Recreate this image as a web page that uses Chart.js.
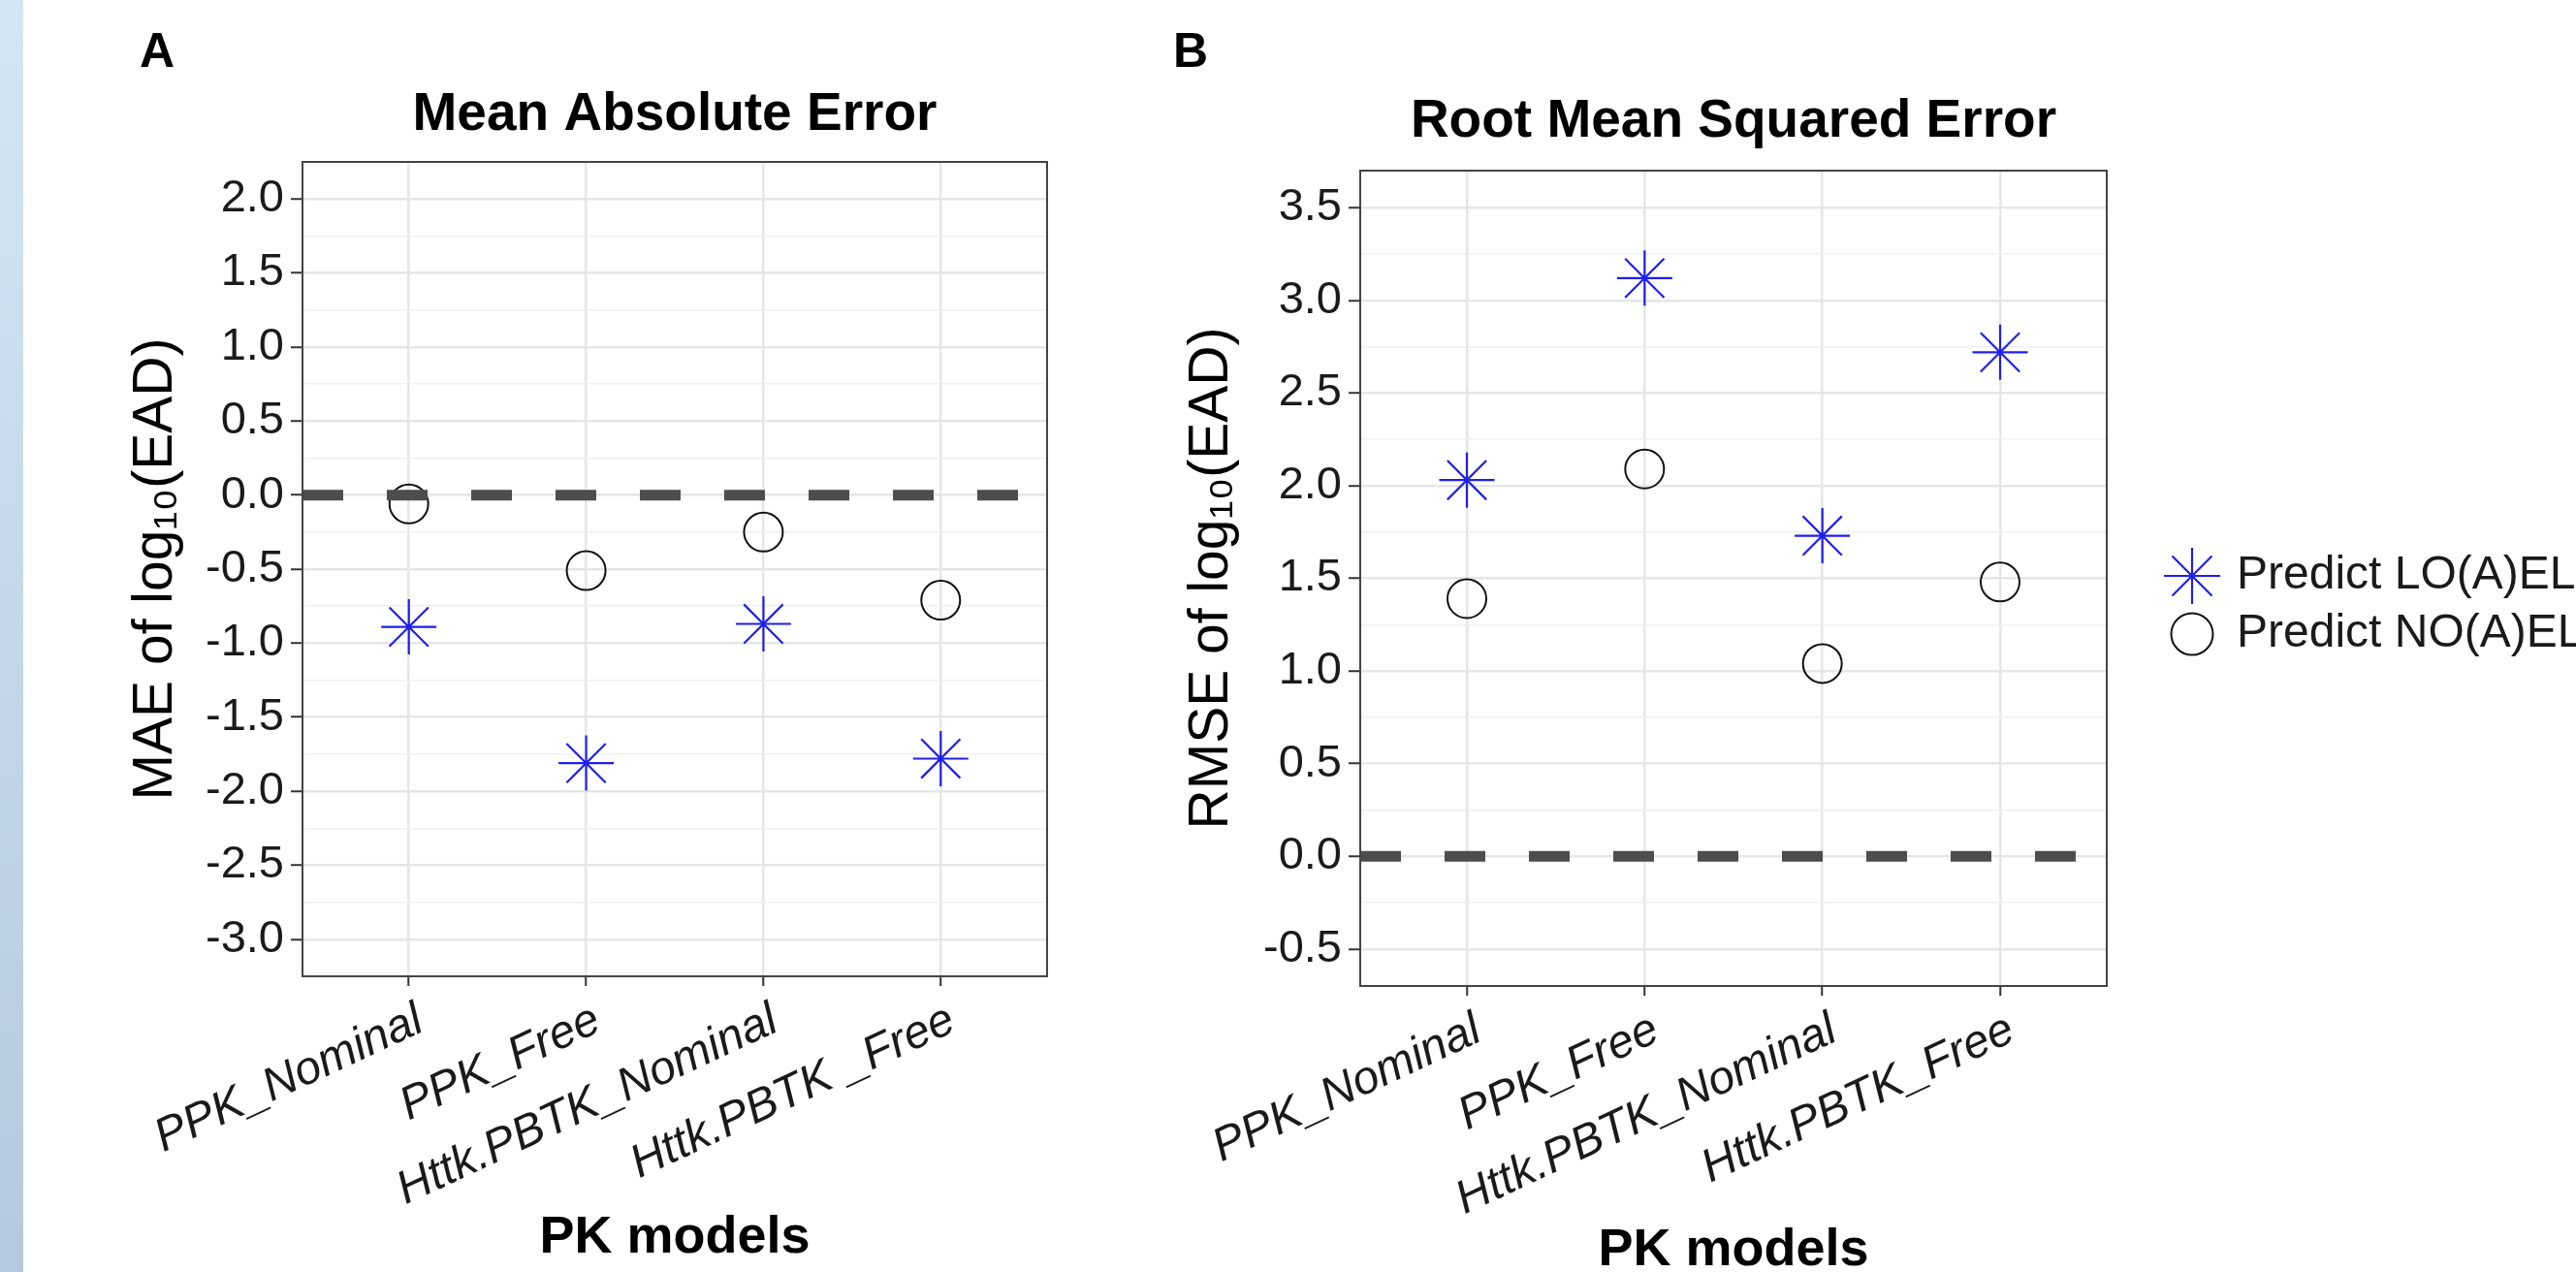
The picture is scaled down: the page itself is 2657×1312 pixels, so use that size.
<!DOCTYPE html>
<html>
<head>
<meta charset="utf-8">
<script src="https://cdn.jsdelivr.net/npm/chart.js@4/dist/chart.umd.min.js"></script>
<style>
  html, body { margin: 0; padding: 0; background: #ffffff; width: 2657px; height: 1312px; overflow: hidden; position: relative; font-family: 'Liberation Sans', Arial, sans-serif; }
  #band { position: absolute; left: 0; top: 0; width: 24px; height: 1312px; background: linear-gradient(#d3e6f5, #b5c9de); }
  .panel-letter { position: absolute; font-weight: bold; font-size: 50px; line-height: 50px; color: #000; }
  #wrapA { position: absolute; left: 0; top: 0; width: 1150px; height: 1312px; }
  #wrapB { position: absolute; left: 1150px; top: 0; width: 1507px; height: 1330px; }
  canvas { display: block; }
</style>
</head>
<body>
<div id="band"></div>
<div class="panel-letter" style="left:144px;top:26.6px">A</div>
<div class="panel-letter" style="left:1210px;top:27.3px">B</div>
<div id="wrapA"><canvas id="chartA" width="1150" height="1312"></canvas></div>
<div id="wrapB"><canvas id="chartB" width="1507" height="1330"></canvas></div>
<script>
// ---------------- data ----------------
const categoriesA = ['PPK_Nominal', 'PPK_Free', 'Httk.PBTK_Nominal', 'Httk.PBTK _Free'];
const categoriesB = ['PPK_Nominal', 'PPK_Free', 'Httk.PBTK_Nominal', 'Httk.PBTK_Free'];
const seriesNames = ['Predict LO(A)EL', 'Predict NO(A)EL'];
const maeLOAEL  = [-0.89, -1.81, -0.87, -1.78];
const maeNOAEL  = [-0.06, -0.51, -0.25, -0.71];
const rmseLOAEL = [2.03, 3.12, 1.73, 2.72];
const rmseNOAEL = [1.39, 2.09, 1.04, 1.48];
const refLineValue = 0;
const yTicksA = ['-3.0', '-2.5', '-2.0', '-1.5', '-1.0', '-0.5', '0.0', '0.5', '1.0', '1.5', '2.0'];
const yTicksB = ['-0.5', '0.0', '0.5', '1.0', '1.5', '2.0', '2.5', '3.0', '3.5'];
const yRangeA = [-3.25, 2.25];
const yRangeB = [-0.7, 3.7];
const panelTitles = ['Mean Absolute Error', 'Root Mean Squared Error'];
const yTitles = ['MAE of log\u2081\u2080(EAD)', 'RMSE of log\u2081\u2080(EAD)'];
const xTitle = 'PK models';

// ---------------- styling ----------------
const FONT = "'Liberation Sans', Arial, Helvetica, sans-serif";
Chart.defaults.font.family = FONT;
Chart.defaults.color = '#1a1a1a';
const BLUE = '#1f1fee';

const panelBorder = {
  id: 'panelBorder',
  afterDatasetsDraw(chart) {
    const {ctx, chartArea: a} = chart;
    ctx.save();
    ctx.strokeStyle = '#444';
    ctx.lineWidth = 2;
    ctx.strokeRect(a.left, a.top, a.right - a.left, a.bottom - a.top);
    ctx.restore();
  }
};

const sideLegend = {
  id: 'sideLegend',
  afterDraw(chart, args, opts) {
    if (!opts || !opts.display) return;
    const {ctx, chartArea} = chart;
    const items = chart.data.datasets.filter(d => d.inLegend);
    const midY = (chartArea.top + chartArea.bottom) / 2 + opts.offsetY;
    const x0 = chartArea.right + opts.offsetX;
    items.forEach((d, i) => {
      const y = midY + (i - (items.length - 1) / 2) * opts.spacing;
      ctx.save();
      ctx.strokeStyle = d.borderColor;
      ctx.fillStyle = 'rgba(0,0,0,0)';
      ctx.lineWidth = d.borderWidth;
      Chart.helpers.drawPoint(ctx, {pointStyle: d.pointStyle, radius: d.legendRadius, rotation: 0, borderWidth: d.borderWidth}, x0, y);
      ctx.restore();
      ctx.save();
      ctx.fillStyle = '#1a1a1a';
      ctx.font = opts.fontSize + 'px ' + FONT;
      ctx.textBaseline = 'middle';
      ctx.textAlign = 'left';
      ctx.fillText(d.label, x0 + opts.textGap, y);
      ctx.restore();
    });
  }
};

function buildPanel(canvasId, p) {
  const major = p.yTicks.map(Number);
  const minor = major.slice(1).map((v, i) => (v + major[i]) / 2);
  const allTicks = major.concat(minor).sort((a, b) => a - b);
  const isMajor = v => major.some(m => Math.abs(m - v) < 1e-9);
  const xMin = -0.6, xMax = p.categories.length - 1 + 0.6;
  const xIdx = p.categories.map((_, i) => i);

  const datasets = [
    {
      label: 'y = 0',
      data: [{x: xMin, y: refLineValue}, {x: xMax, y: refLineValue}],
      showLine: true,
      borderColor: '#4d4d4d',
      borderWidth: 11,
      borderDash: [42, 45],
      pointRadius: 0,
      order: 0
    },
    {
      label: seriesNames[0],
      data: p.lo.map((v, i) => ({x: i, y: v})),
      pointStyle: 'star',
      pointRadius: 28.5,
      borderColor: BLUE,
      backgroundColor: 'rgba(0,0,0,0)',
      borderWidth: 2.2,
      inLegend: true,
      legendRadius: 29,
      order: 1
    },
    {
      label: seriesNames[1],
      data: p.no.map((v, i) => ({x: i, y: v})),
      pointStyle: 'circle',
      pointRadius: 20,
      borderColor: '#111111',
      backgroundColor: 'rgba(0,0,0,0)',
      borderWidth: 2,
      inLegend: true,
      legendRadius: 21.5,
      order: 2
    }
  ];

  return new Chart(document.getElementById(canvasId), {
    type: 'scatter',
    data: {datasets},
    options: {
      responsive: false,
      devicePixelRatio: 1,
      animation: false,
      events: [],
      layout: {padding: {left: p.Lp, right: p.Rp, top: p.Tp, bottom: 0}},
      plugins: {
        legend: {display: false},
        tooltip: {enabled: false},
        title: {
          display: true, text: p.title, fullSize: false, color: '#000',
          font: {size: 55, weight: 'bold', lineHeight: 1.2},
          padding: {top: 0, bottom: p.titlePadB}
        },
        sideLegend: p.legend || {display: false}
      },
      scales: {
        x: {
          type: 'linear', min: xMin, max: xMax,
          afterBuildTicks: s => { s.ticks = xIdx.map(v => ({value: v})); },
          afterFit: s => { s.height = p.xAxisH; },
          ticks: {
            autoSkip: false, minRotation: 25, maxRotation: 25,
            font: {size: 48, style: 'italic'}, color: '#1a1a1a',
            padding: 7, labelOffset: 12,
            callback: v => (p.categories[v] !== undefined ? p.categories[v] : '')
          },
          grid: {color: '#e6e6e6', lineWidth: 2.5, tickLength: 10, tickColor: '#333', tickWidth: 2},
          border: {display: false},
          title: {
            display: true, text: xTitle, color: '#000',
            font: {size: 54, weight: 'bold', lineHeight: 1.2},
            padding: {top: 0, bottom: p.xTitlePadB}
          }
        },
        y: {
          type: 'linear', min: p.yRange[0], max: p.yRange[1],
          afterBuildTicks: s => { s.ticks = allTicks.map(v => ({value: v})); },
          afterFit: s => { s.width = p.yAxisW; },
          ticks: {
            autoSkip: false, font: {size: 47}, color: '#1a1a1a', padding: 7,
            callback: v => {
              const i = major.findIndex(m => Math.abs(m - v) < 1e-9);
              return i >= 0 ? p.yTicks[i] : '';
            }
          },
          grid: {
            color: c => (c.tick && !isMajor(c.tick.value)) ? '#f0f0f0' : '#e6e6e6',
            lineWidth: c => (c.tick && !isMajor(c.tick.value)) ? 1.5 : 2.5,
            tickColor: c => (c.tick && !isMajor(c.tick.value)) ? 'rgba(0,0,0,0)' : '#333',
            tickLength: 12, tickWidth: 2
          },
          border: {display: false},
          title: {
            display: true, text: p.yTitle, color: '#000',
            font: {size: 57, lineHeight: 1.2},
            padding: {top: 0, bottom: 0}
          }
        }
      }
    },
    plugins: [panelBorder, sideLegend]
  });
}

buildPanel('chartA', {
  categories: categoriesA, lo: maeLOAEL, no: maeNOAEL,
  yTicks: yTicksA, yRange: yRangeA, title: panelTitles[0], yTitle: yTitles[0],
  Lp: 126.8, Rp: 70, Tp: 85.5, titlePadB: 15.5,
  yAxisW: 185.2, xAxisH: 305, xTitlePadB: 2.6
});

buildPanel('chartB', {
  categories: categoriesB, lo: rmseLOAEL, no: rmseNOAEL,
  yTicks: yTicksB, yRange: yRangeB, title: panelTitles[1], yTitle: yTitles[1],
  Lp: 65.8, Rp: 484, Tp: 92.5, titlePadB: 17.5,
  yAxisW: 187.2, xAxisH: 313, xTitlePadB: 7.1,
  legend: {display: true, offsetX: 88, offsetY: 27.5, spacing: 60, textGap: 46, fontSize: 48}
});
</script>
</body>
</html>
